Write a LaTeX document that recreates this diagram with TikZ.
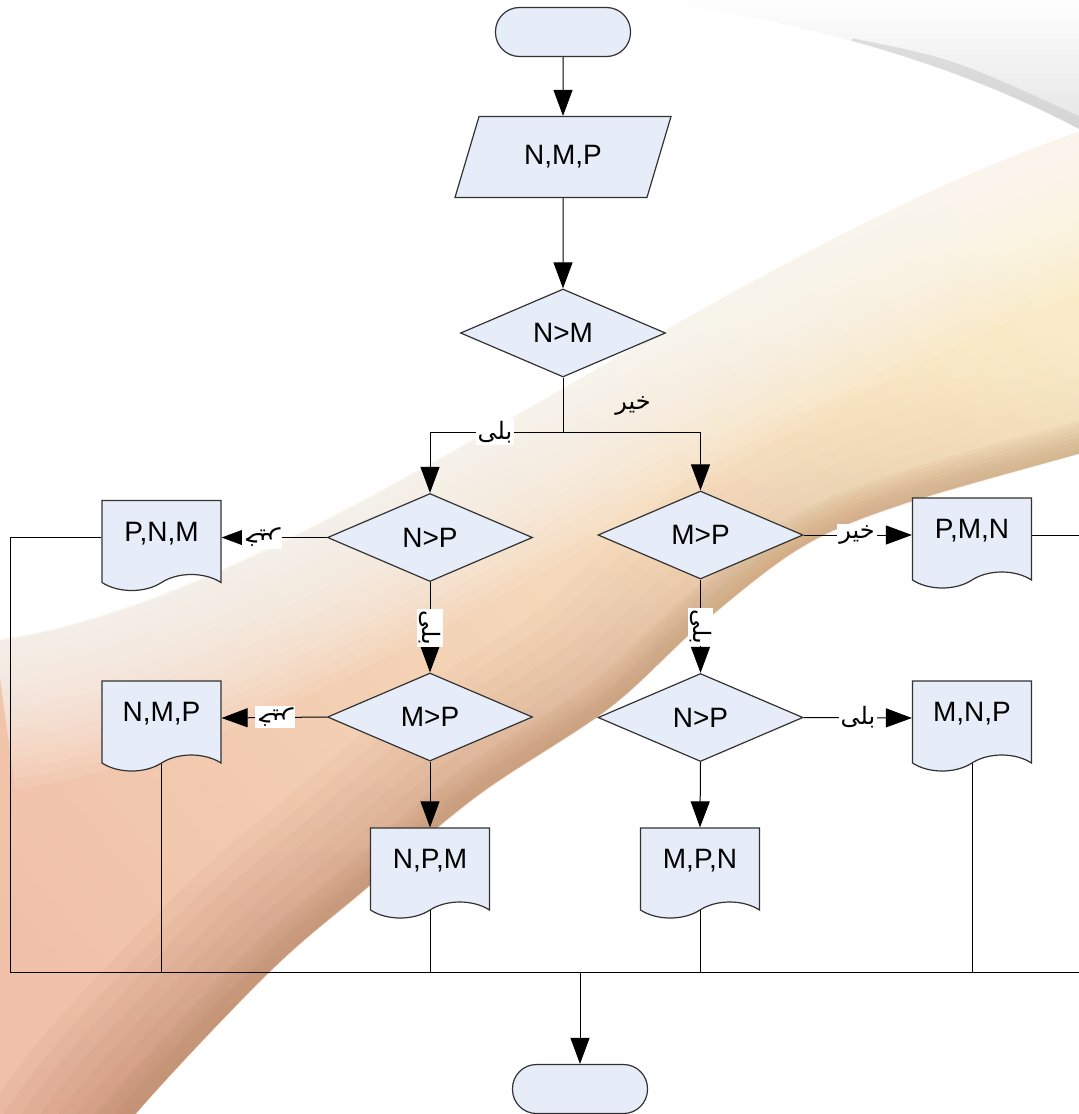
\documentclass[tikz,border=0pt]{standalone}
\usepackage{fontspec}
\setmainfont{Liberation Sans}
\newfontfamily\farsi[Script=Arabic]{DejaVu Sans}
\TeXXeTstate=1
\usetikzlibrary{shapes.geometric,shapes.symbols,arrows.meta,fadings}

\definecolor{boxfill}{RGB}{231,237,248}
\definecolor{outline}{RGB}{50,50,50}
\definecolor{cream}{RGB}{250,236,200}
\definecolor{salmon}{RGB}{240,192,168}
\definecolor{bandbrown}{RGB}{185,130,105}
\definecolor{bandtan}{RGB}{205,170,125}
\definecolor{sweepgrey}{RGB}{228,228,228}

\pgfdeclarelayer{backdrop}
\pgfdeclarelayer{wires}
\pgfsetlayers{backdrop,wires,main}

\tikzset{
  shape base/.style={draw=outline, fill=boxfill, line width=0.6pt,
    font=\fontsize{14}{16}\selectfont, inner sep=0pt},
  terminal/.style={shape base, rectangle, rounded corners=12pt,
    minimum width=67.5pt, minimum height=24.5pt},
  io/.style={shape base, trapezium, trapezium left angle=64,
    trapezium right angle=116, trapezium stretches=true,
    minimum width=108.5pt, minimum height=40.5pt},
  decision/.style={shape base, diamond, minimum width=102.5pt, minimum height=44pt},
  doc/.style={shape base, tape, tape bend top=none, tape bend bottom=in and out,
    tape bend height=8pt, minimum width=59.5pt, minimum height=45pt, text depth=6pt},
  wire/.style={draw=black, line width=0.5pt},
  arrow/.style={wire, -{Triangle[length=13pt,width=9.5pt]}},
  answer/.style={font=\farsi\fontsize{12}{14}\selectfont, inner sep=1pt, fill=white},
  rim/.style={line width=#1*0.5pt},
}

% rims of the warm sweep
\def\bandedge{plot[smooth,tension=0.55] coordinates {(1200,420) (1085,452) (900,505) (800,548) (700,625) (609,708) (478,795) (364,890) (268,973) (130,1120) (60,1220)}}
\def\topedge{(-5,640) .. controls (300,600) and (700,260) .. (1085,130)}
\edef\warmregion{\topedge\space -- (1200,130) -- \bandedge\space -- (-100,1220) -- cycle}

\begin{document}
\begin{tikzpicture}[x=0.5pt,y=-0.5pt]
\useasboundingbox (0,0) rectangle (1079,1114);
\clip (0,0) rectangle (1079,1114);

% ---------- backdrop ----------
\begin{pgfonlayer}{backdrop}
  \fill[white] (-5,-5) rectangle (1085,1120);
  \fill[cream] \warmregion;
  \fill[salmon, path fading=east, fading angle=35] \warmregion;
  \begin{scope}
    \clip \warmregion;
    % soft upper rim
    \foreach \w in {20,40,...,300}
      \draw[white, rim=\w, opacity=0.09] \topedge;
    % tan rim along the whole lower edge
    \foreach \w in {8,16,...,64}
      \draw[bandtan, rim=\w, opacity=0.1] \bandedge;
    % brown rim, growing stronger towards the bottom left
    \foreach \w in {30,60,...,240}
      \draw[bandbrown, rim=\w, opacity=0.13, path fading=north] \bandedge;
  \end{scope}
  \shade[top color=white, bottom color=sweepgrey]
    (620,-5) .. controls (800,20) and (950,60) .. (1085,132) -- (1085,-5) -- cycle;
  \begin{scope}
    \clip (620,-5) .. controls (800,20) and (950,60) .. (1085,132) -- (1085,-5) -- cycle;
    \draw[black!22, line width=12pt, opacity=0.5] (850,50) .. controls (950,70) .. (1085,132);
  \end{scope}
\end{pgfonlayer}

% ---------- flowchart symbols ----------
\node[terminal] (start) at (563,32) {};
\node[io] (input) at (563,157) {N,M,P};
\node[decision] (d1) at (563,333) {N>M};
\node[decision] (d2) at (430,537.5) {N>P};
\node[decision] (d3) at (700.5,535) {M>P};
\node[decision] (d4) at (430,717) {M>P};
\node[decision] (d5) at (700.5,717.5) {N>P};
\node[doc] (o1) at (161.5,537.5) {P,N,M};
\node[doc] (o2) at (972,535) {P,M,N};
\node[doc] (o3) at (161.5,718) {N,M,P};
\node[doc] (o4) at (430,865) {N,P,M};
\node[doc] (o5) at (700,865) {M,P,N};
\node[doc] (o6) at (972,718) {M,N,P};
\node[terminal] (end) at (580,1089) {};

\coordinate (split) at (563,432);
\coordinate (busL) at (10,972);
\coordinate (busR) at (1090,972);

% ---------- connectors ----------
\begin{pgfonlayer}{wires}
  \draw[arrow] (start) -- (input);
  \draw[arrow] (input) -- (d1);
  \draw[wire] (d1.south) -- (split);
  \draw[arrow] (split) -| (d2.north);
  \draw[arrow] (split) -| (d3.north);
  \draw[arrow] (d2.west) -- (o1.east);
  \draw[arrow] (d2.south) -- (d4.north);
  \draw[arrow] (d4.west) -- (o3.east);
  \draw[arrow] (d4.south) -- (o4.north);
  \draw[arrow] (d3.east) -- (o2.west);
  \draw[arrow] (d3.south) -- (d5.north);
  \draw[arrow] (d5.east) -- (o6.west);
  \draw[arrow] (d5.south) -- (o5.north);
  \draw[wire] (o1.west) -| (busL);
  \draw[wire] (o2.east) -| (busR);
  \draw[wire] (o3.center) -- (o3.center |- busL);
  \draw[wire] (o4.center) -- (o4.center |- busL);
  \draw[wire] (o5.center) -- (o5.center |- busL);
  \draw[wire] (o6.center) -- (o6.center |- busL);
  \draw[wire] (busL) -- (busR);
  \draw[arrow] (end.north |- busL) -- (end);
\end{pgfonlayer}

% ---------- branch answers ----------
\node[answer, fill=none] (a1) at (633,406) {\beginR خیر\endR};
\node[answer] (a2) at (495,432) {\beginR بلی\endR};
\node[answer, rotate=180] (a3) at (262,537.5) {\beginR خیر\endR};
\node[answer, rotate=-90] (a4) at (430,628) {\beginR بلی\endR};
\node[answer, rotate=180] (a5) at (275,717) {\beginR خیر\endR};
\node[answer] (a6) at (857,535) {\beginR خیر\endR};
\node[answer, rotate=-90] (a7) at (700.5,627) {\beginR بلی\endR};
\node[answer] (a8) at (858,717.5) {\beginR بلی\endR};
\end{tikzpicture}
\end{document}
